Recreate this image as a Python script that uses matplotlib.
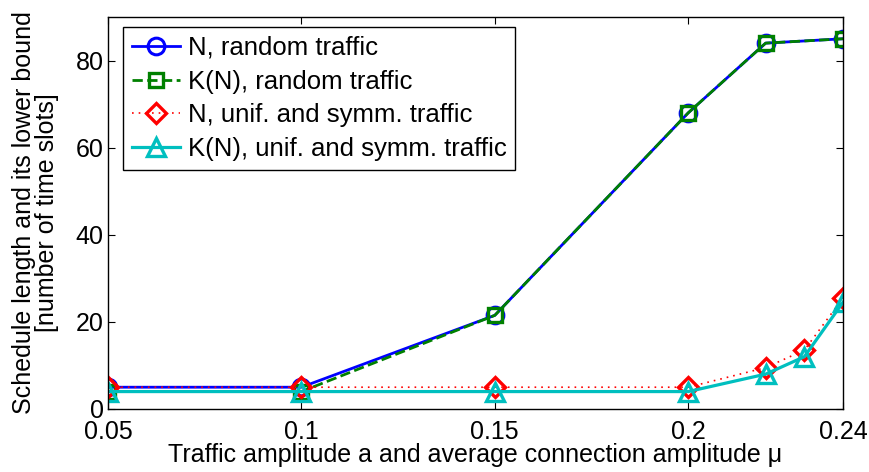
import matplotlib
matplotlib.use("Agg")
import matplotlib.pyplot as plt

plt.rcParams["font.family"] = ["Liberation Sans", "DejaVu Sans"]

# data
x_random = [0.05, 0.10, 0.15, 0.20, 0.22, 0.24]
n_random = [5, 5, 21.5, 68, 84, 85]
k_random = [4, 4, 21.5, 68, 84, 85]

x_unif = [0.05, 0.10, 0.15, 0.20, 0.22, 0.23, 0.24]
n_unif = [5, 5, 5, 5, 9.5, 13.5, 25.5]
k_unif = [4, 4, 4, 4, 8, 12, 24.5]

xticks = [0.05, 0.1, 0.15, 0.2, 0.24]
xtick_labels = ["0.05", "0.1", "0.15", "0.2", "0.24"]
yticks = [0, 20, 40, 60, 80]

FS = 18

fig = plt.figure(figsize=(8.7, 4.72), dpi=100)
ax = fig.add_axes([0.124, 0.1335, 0.845, 0.8305])

ax.plot(x_random, n_random, color="#0000ff", ls="-", lw=2.0, marker="o",
        ms=12, mfc="none", mew=2.2, label="N, random traffic")
ax.plot(x_random, k_random, color="#008000", ls="--", lw=2.0, marker="s",
        ms=9.5, mfc="none", mew=2.4, label="K(N), random traffic")
ax.plot(x_unif, n_unif, color="#ff0000", ls=(0, (1, 3)), lw=1.2, marker="D",
        ms=10.5, mfc="none", mew=2.4, label="N, unif. and symm. traffic")
ax.plot(x_unif, k_unif, color="#00bfbf", ls="-", lw=2.3, marker="^",
        ms=13, mfc="none", mew=2.4, label="K(N), unif. and symm. traffic")

ax.set_xlim(0.05, 0.24)
ax.set_ylim(0, 90)
ax.set_xticks(xticks)
ax.set_xticklabels(xtick_labels)
ax.set_yticks(yticks)
ax.tick_params(direction="in", top=True, right=True, labelsize=FS,
               length=5, width=0.8)
ax.tick_params(axis="x", pad=8)
ax.tick_params(axis="y", pad=3)
for s in ax.spines.values():
    s.set_linewidth(1.0)

ax.set_xlabel("Traffic amplitude a and average connection amplitude \u03bc",
              fontsize=FS, labelpad=-1)
ax.set_ylabel("Schedule length and its lower bound\n[number of time slots]",
              fontsize=FS, labelpad=12, linespacing=0.95)

leg = ax.legend(loc="upper left", fontsize=18.5, handlelength=1.9,
                handletextpad=0.28, borderpad=0.35, labelspacing=0.38,
                borderaxespad=0.0, fancybox=False, framealpha=1,
                edgecolor="black", bbox_to_anchor=(0.02, 0.975))
leg.get_frame().set_linewidth(1.0)

fig.savefig("out.png", dpi=100)
